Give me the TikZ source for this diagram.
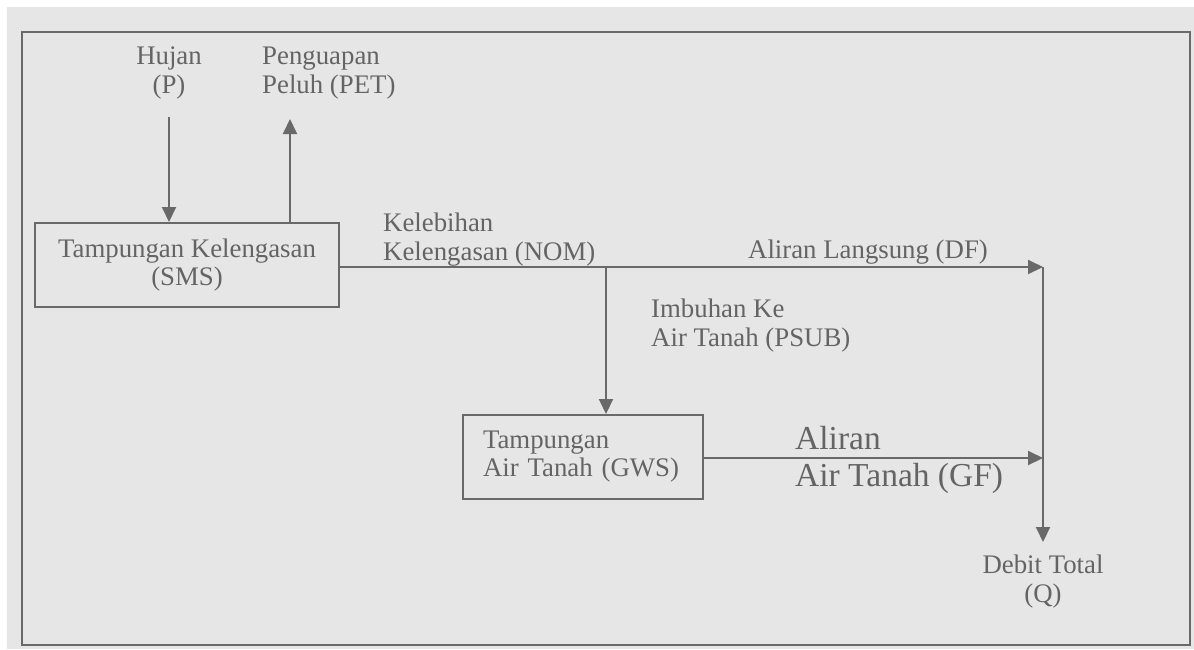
\documentclass[tikz,border=0pt]{standalone}
\usepackage{fontspec}
\setmainfont{Liberation Serif}
\usetikzlibrary{arrows.meta}
\definecolor{paper}{RGB}{230,230,230}
\definecolor{ink}{RGB}{105,105,105}
\definecolor{txt}{RGB}{100,100,100}
\tikzset{
  lbl/.style={inner sep=0pt, text=txt, font=\fontsize{26.8}{29}\selectfont},
  biglbl/.style={inner sep=0pt, text=txt, font=\fontsize{33.5}{37}\selectfont},
  boxnode/.style={draw=ink, line width=2pt, inner sep=0pt, text=txt, font=\fontsize{26.8}{28}\selectfont},
  ln/.style={draw=ink, line width=2pt},
  arr/.style={ln, -{Triangle[length=15pt,width=14pt]}}
}
\begin{document}
\begin{tikzpicture}[x=1pt,y=-1pt]
\useasboundingbox (0,0) rectangle (1194,649);
\fill[white] (0,0) rectangle (1194,649);
\fill[paper] (7,7) rectangle (1194,649);
\draw[ln] (22,32) rectangle (1190,645);

% nodes
\node[lbl, align=center] (hujan) at (169,73) {Hujan\\(P)};
\node[lbl, align=left, anchor=west] (pet) at (262,73) {Penguapan\\Peluh (PET)};
\node[boxnode, minimum width=304pt, minimum height=84pt, align=center] (sms) at (187,265) {Tampungan Kelengasan\\(SMS)};
\node[boxnode, minimum width=240pt, minimum height=84pt, align=left, text width=200pt] (gws) at (583,457) {Tampungan\\Air Tanah (GWS)};
\node[lbl, align=center] (q) at (1043,582) {Debit Total\\(Q)};

\coordinate (hujanstart) at (169,117);
\coordinate (petend) at (290,119);
\coordinate (junc) at (1043,267);
\coordinate (branch) at (606,267);
\coordinate (qtip) at (1043,542);

% connectors
\draw[arr] (hujanstart) -- (hujanstart |- sms.north);
\draw[arr] (petend |- sms.north) -- (petend);
\draw[ln] (sms.east |- branch) -- (branch);
\draw[arr] (branch) -- (junc);
\draw[arr] (branch) -- (branch |- gws.north);
\draw[arr] (gws.east |- 0,458) -- (junc |- 0,458);
\draw[arr] (junc) -- (qtip);

% labels
\node[lbl, align=left, anchor=west] (nom) at (383,240) {Kelebihan\\Kelengasan (NOM)};
\node[lbl] (df) at (868,252) {Aliran Langsung (DF)};
\node[lbl, align=left, anchor=west] (psub) at (651,326) {Imbuhan Ke\\Air Tanah (PSUB)};
\node[biglbl, align=left, anchor=west] (gf) at (795,460) {Aliran\\Air Tanah (GF)};
\end{tikzpicture}
\end{document}
